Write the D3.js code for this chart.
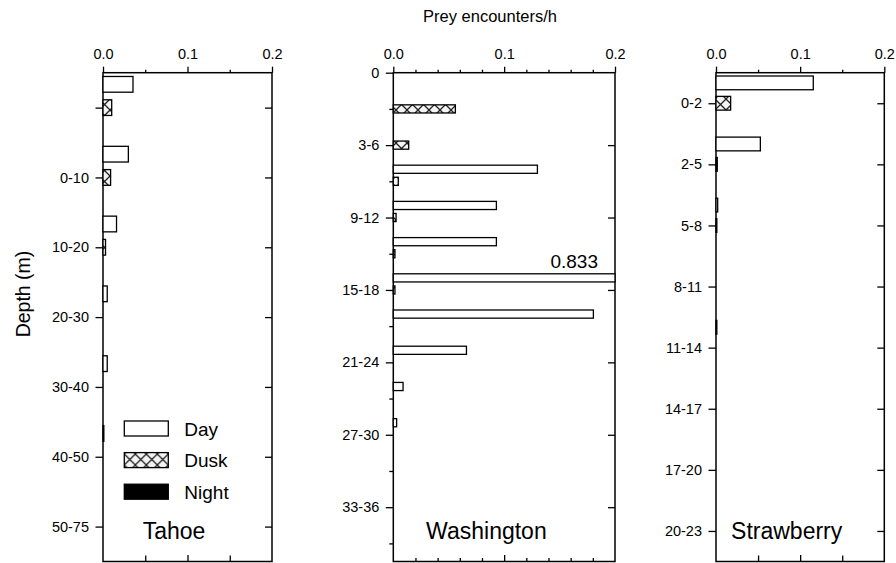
<!DOCTYPE html>
<html>
<head>
<meta charset="utf-8">
<script src="https://cdn.jsdelivr.net/npm/d3@7"></script>
<style>
    body { margin: 0; background: #fff; }
    svg { font-family: Arial, "Liberation Sans", sans-serif; }
</style>
</head>
<body>
<script>
// depth classes and encounter rates
var tahoeDepths = ["", "0-10", "10-20", "20-30", "30-40", "40-50", "50-75"];
var tahoeDay = [0.0355, 0.030, 0.016, 0.005, 0.005, 0.001, 0];
var tahoeDusk = [0.0103, 0.009, 0.003, 0, 0, 0, 0];
var tahoeNight = [0, 0, 0, 0, 0, 0, 0];

var washDepths = ["0-3", "3-6", "6-9", "9-12", "12-15", "15-18", "18-21",
    "21-24", "24-27", "27-30", "30-33", "33-36", "36-39"];
var washDay = [0, 0, 0.130, 0.093, 0.093, 0.833, 0.1805, 0.066, 0.0088, 0.003, 0, 0, 0];
var washDusk = [0.056, 0.0139, 0.0045, 0.0025, 0.0015, 0.0015, 0, 0, 0, 0, 0, 0, 0];
var washNight = [0, 0, 0, 0, 0, 0, 0, 0, 0, 0, 0, 0, 0];

var strawDepths = ["0-2", "2-5", "5-8", "8-11", "11-14", "14-17", "17-20", "20-23"];
var strawDay = [0.1156, 0.0527, 0.002, 0, 0.001, 0, 0, 0];
var strawDusk = [0.0174, 0.0015, 0.001, 0, 0, 0, 0, 0];
var strawNight = [0, 0, 0, 0, 0, 0, 0, 0];

var xMajor = [0, 0.1, 0.2];
var periods = ["Day", "Dusk", "Night"];

var width = 896, height = 563;
var yTop = 72.7, yBottom = 561.5;

var panels = [
    {name: "Tahoe", depths: tahoeDepths, sets: [tahoeDay, tahoeDusk, tahoeNight],
        left: 103, right: 272, first: -0.5, minorStep: 0.05, labelEvery: 1, legend: true},
    {name: "Washington", depths: washDepths, sets: [washDay, washDusk, washNight],
        left: 393.3, right: 615, first: -1, minorStep: 0.02, labelEvery: 2, topLabel: "0"},
    {name: "Strawberry", depths: strawDepths, sets: [strawDay, strawDusk, strawNight],
        left: 716, right: 884.3, first: -0.5, minorStep: 0.05, labelEvery: 1}
];

var svg = d3.select("body").append("svg")
    .attr("width", width)
    .attr("height", height);

// crosshatch for the dusk bars
var pat = svg.append("defs").append("pattern")
    .attr("id", "hatch")
    .attr("patternUnits", "userSpaceOnUse")
    .attr("width", 11)
    .attr("height", 11);
pat.append("rect").attr("width", 11).attr("height", 11).attr("fill", "#f4f4f4");
pat.append("path")
    .attr("d", "M0,0L11,11M11,0L0,11")
    .attr("stroke", "#222")
    .attr("stroke-width", 1.3);

var fills = ["#fff", "url(#hatch)", "#000"];

function drawPanel(p) {
    var n = p.depths.length;
    var x = d3.scaleLinear().domain([0, 0.2]).range([p.left, p.right]).clamp(true);
    var y = d3.scaleLinear().domain([p.first, n - 0.5]).range([yTop, yBottom]);
    var band = y(1) - y(0);
    var barH = band * 0.225;
    var idx = d3.range(n);
    var g = svg.append("g");

    //minor ticks every step
    var minor = d3.range(0, 0.2 + 1e-9, p.minorStep).filter(function (v) {
        return xMajor.every(function (m) { return Math.abs(m - v) > 1e-9; });
    });

    // top axis, ticks pointing out
    g.append("g")
        .attr("transform", "translate(0," + yTop + ")")
        .call(d3.axisTop(x).tickValues(minor).tickSize(3).tickFormat(""));
    g.append("g")
        .attr("transform", "translate(0," + yTop + ")")
        .call(d3.axisTop(x).tickValues(xMajor).tickSize(6).tickPadding(8).tickFormat(d3.format(".1f")));

    // bottom axis, ticks pointing in
    g.append("g")
        .attr("transform", "translate(0," + yBottom + ")")
        .call(d3.axisTop(x).tickValues(minor).tickSize(p.labelEvery > 1 ? 3.5 : 6).tickFormat(""));
    g.append("g")
        .attr("transform", "translate(0," + yBottom + ")")
        .call(d3.axisTop(x).tickValues([0.1]).tickSize(6.5).tickFormat(""));

    // left axis with depth labels
    var leftVals = p.topLabel ? [p.first].concat(idx) : idx;
    function isMajor(i) {
        return i === p.first || (i % p.labelEvery) === (p.labelEvery - 1);
    }
    var leftAxis = g.append("g")
        .attr("transform", "translate(" + p.left + ",0)")
        .call(d3.axisLeft(y).tickValues(leftVals).tickSize(7).tickPadding(7)
            .tickFormat(function (i) {
                if (i === p.first) return p.topLabel;
                return isMajor(i) ? p.depths[i] : "";
            }));
    leftAxis.selectAll(".tick line").attr("x2", function (i) {
        return isMajor(i) ? -7.5 : -4;
    });

    // right axis, inward ticks at labelled depths
    g.append("g")
        .attr("transform", "translate(" + p.right + ",0)")
        .call(d3.axisRight(y).tickValues(idx.filter(isMajor)).tickSize(-7).tickFormat(""));

    g.selectAll(".domain").remove();
    g.selectAll("g").attr("font-family", null).attr("font-size", null);
    g.selectAll(".tick line").attr("stroke", "#000").attr("stroke-width", 1.3);
    g.selectAll(".tick text").attr("fill", "#000").style("font-size", "14.5px");

    // frame
    g.append("rect")
        .attr("x", p.left)
        .attr("y", yTop)
        .attr("width", p.right - p.left)
        .attr("height", yBottom - yTop)
        .attr("fill", "none")
        .attr("stroke", "#000")
        .attr("stroke-width", 1.5);

    // bars: day above the tick, dusk on it, night below
    p.sets.forEach(function (set, k) {
        var rows = idx.map(function (i) {
            return {i: i, value: set[i]};
        }).filter(function (d) { return d.value > 0; });

        g.selectAll(".bar" + k)
            .data(rows)
            .enter().append("rect")
            .attr("class", "bar" + k)
            .attr("x", x(0))
            .attr("y", function (d) { return y(d.i + (k - 1) / 3) - barH / 2; })
            .attr("width", function (d) { return Math.max(x(d.value) - x(0), 0.8); })
            .attr("height", barH)
            .attr("fill", fills[k])
            .attr("stroke", "#000")
            .attr("stroke-width", 1.3);

        // value for bars running off the scale
        g.selectAll(".over" + k)
            .data(rows.filter(function (d) { return d.value > 0.2; }))
            .enter().append("text")
            .attr("x", x(0.2) - 17)
            .attr("y", function (d) { return y(d.i + (k - 1) / 3) - barH / 2 - 6; })
            .attr("text-anchor", "end")
            .style("font-size", "19px")
            .text(function (d) { return d3.format(".3f")(d.value); });
    });

    g.append("text")
        .attr("x", p.left + (p.right - p.left) * 0.42)
        .attr("y", 539)
        .attr("text-anchor", "middle")
        .style("font-size", "23px")
        .text(p.name);

    if (p.legend) {
        var lg = g.append("g").attr("transform", "translate(124.3,421)");
        periods.forEach(function (name, k) {
            lg.append("rect")
                .attr("x", 0)
                .attr("y", k * 31.6)
                .attr("width", 44)
                .attr("height", 15)
                .attr("fill", fills[k])
                .attr("stroke", "#000")
                .attr("stroke-width", 1.3);
            lg.append("text")
                .attr("x", 60)
                .attr("y", k * 31.6 + 14.5)
                .style("font-size", "19px")
                .text(name);
        });
    }
}

panels.forEach(drawPanel);

svg.append("text")
    .attr("x", 490)
    .attr("y", 22)
    .attr("text-anchor", "middle")
    .style("font-size", "16.5px")
    .text("Prey encounters/h");

svg.append("text")
    .attr("transform", "translate(30,294) rotate(-90)")
    .attr("text-anchor", "middle")
    .style("font-size", "19.5px")
    .text("Depth (m)");
</script>
</body>
</html>
